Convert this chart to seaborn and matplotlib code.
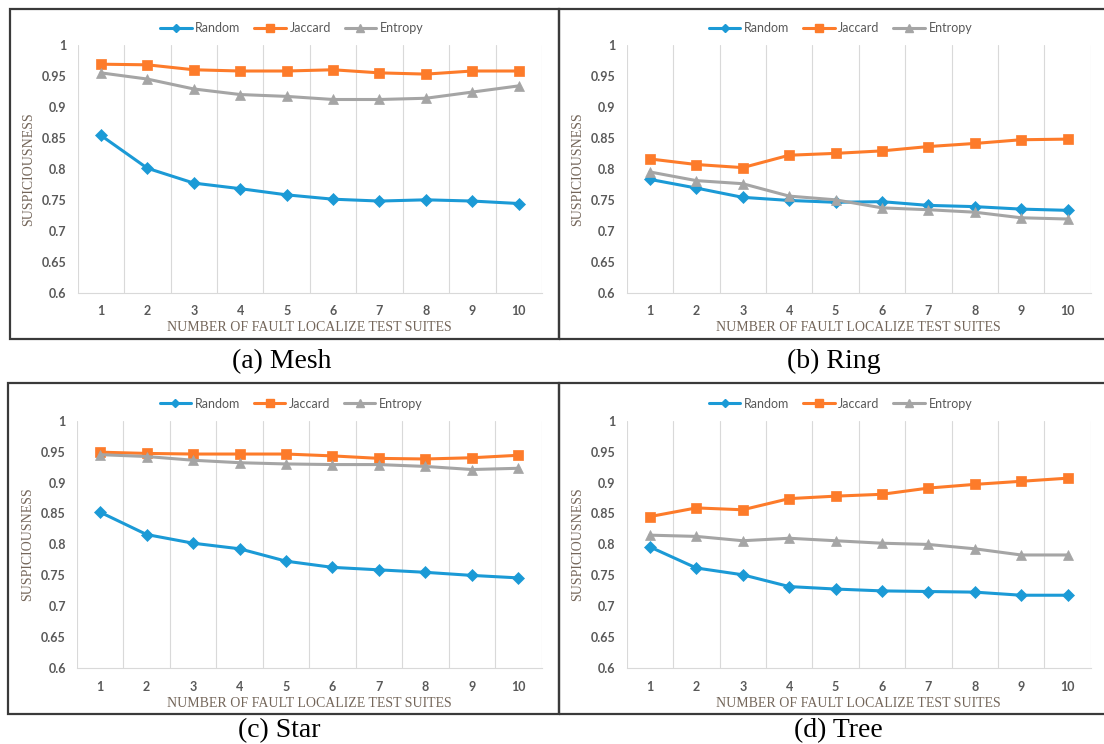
import numpy as np
import pandas as pd
import matplotlib
matplotlib.use("Agg")
import matplotlib.pyplot as plt
from matplotlib.patches import Rectangle
from matplotlib.lines import Line2D
import seaborn as sns

sns.set_theme(style="white")
plt.rcParams['font.family'] = ['Lato', 'DejaVu Sans']

suites = [1, 2, 3, 4, 5, 6, 7, 8, 9, 10]
series_names = ["Random", "Jaccard", "Entropy"]

mesh_random = [0.854, 0.801, 0.777, 0.768, 0.758, 0.751, 0.748, 0.750, 0.748, 0.744]
mesh_jaccard = [0.969, 0.968, 0.960, 0.958, 0.958, 0.960, 0.955, 0.953, 0.958, 0.958]
mesh_entropy = [0.955, 0.945, 0.929, 0.920, 0.917, 0.912, 0.912, 0.914, 0.924, 0.934]

ring_random = [0.783, 0.769, 0.754, 0.749, 0.746, 0.747, 0.741, 0.739, 0.735, 0.733]
ring_jaccard = [0.816, 0.807, 0.802, 0.822, 0.825, 0.829, 0.836, 0.841, 0.847, 0.848]
ring_entropy = [0.795, 0.781, 0.776, 0.756, 0.750, 0.737, 0.734, 0.730, 0.721, 0.719]

star_random = [0.852, 0.816, 0.802, 0.793, 0.773, 0.763, 0.759, 0.755, 0.750, 0.746]
star_jaccard = [0.949, 0.947, 0.946, 0.946, 0.946, 0.943, 0.939, 0.938, 0.940, 0.944]
star_entropy = [0.945, 0.942, 0.936, 0.932, 0.930, 0.929, 0.929, 0.926, 0.921, 0.923]

tree_random = [0.796, 0.762, 0.751, 0.732, 0.728, 0.725, 0.724, 0.723, 0.718, 0.718]
tree_jaccard = [0.845, 0.859, 0.856, 0.874, 0.878, 0.881, 0.891, 0.897, 0.902, 0.907]
tree_entropy = [0.815, 0.813, 0.806, 0.810, 0.806, 0.802, 0.800, 0.793, 0.783, 0.783]

captions = ["(a) Mesh", "(b) Ring", "(c) Star", "(d) Tree"]
panels = [
    (mesh_random, mesh_jaccard, mesh_entropy),
    (ring_random, ring_jaccard, ring_entropy),
    (star_random, star_jaccard, star_entropy),
    (tree_random, tree_jaccard, tree_entropy),
]
y_ticks = [0.6, 0.65, 0.7, 0.75, 0.8, 0.85, 0.9, 0.95, 1.0]
y_ticklabels = ["0.6", "0.65", "0.7", "0.75", "0.8", "0.85", "0.9", "0.95", "1"]
x_label = "NUMBER OF FAULT LOCALIZE TEST SUITES"
y_label = "SUSPICIOUSNESS"

colors = ["#1b9ad6", "#fd7b2a", "#a5a5a5"]
markers = ["D", "s", "^"]
msizes = [6.5, 7.8, 7.8]

W, H = 1104, 744
fig = plt.figure(figsize=(W / 100, H / 100), dpi=100)

def fx(px):
    return px / W

def fy(py):
    return 1 - py / H

# plot areas in pixel coords (left, top, right, bottom)
plot_boxes = [
    (77.7, 45.0, 542.0, 292.7),
    (626.7, 45.0, 1090.7, 292.7),
    (77.0, 420.6, 541.5, 668.3),
    (626.7, 420.6, 1090.7, 668.3),
]
frames = [
    (10, 9, 559, 339),
    (559, 9, 1112, 339),
    (8, 383, 559, 714),
    (559, 383, 1112, 714),
]
caption_pos = [(282, 368), (834, 368), (279, 737), (838, 737)]

gray_text = "#595959"
title_color = "#74665a"
serif = ["Liberation Serif", "DejaVu Serif"]

for i, (vals, box) in enumerate(zip(panels, plot_boxes)):
    l, t, r, b = box
    ax = fig.add_axes([fx(l), fy(b), fx(r) - fx(l), (b - t) / H])
    df = pd.DataFrame({
        "suite": suites * 3,
        "value": list(vals[0]) + list(vals[1]) + list(vals[2]),
        "series": [s for s in series_names for _ in suites],
    })
    for j, name in enumerate(series_names):
        sub = df[df["series"] == name]
        sns.lineplot(data=sub, x="suite", y="value", ax=ax, color=colors[j],
                     marker=markers[j], markersize=msizes[j], linewidth=2.2,
                     markeredgecolor=colors[j], markeredgewidth=0.5, legend=False)
    ax.set_xlim(0.5, 10.5)
    ax.set_ylim(0.6, 1.0)
    ax.set_xticks(suites)
    ax.set_xticklabels([str(s) for s in suites])
    ax.set_xticks(np.arange(0.5, 11, 1.0), minor=True)
    ax.set_yticks(y_ticks)
    ax.set_yticklabels(y_ticklabels)
    ax.grid(False)
    ax.grid(which="minor", axis="x", color="#d9d9d9", linewidth=0.8)
    for s in ["top", "right", "left"]:
        ax.spines[s].set_visible(False)
    ax.spines["bottom"].set_color("#d9d9d9")
    ax.spines["bottom"].set_linewidth(0.8)
    ax.tick_params(axis="both", which="both", length=0, labelsize=9, labelcolor=gray_text)
    ax.tick_params(axis="y", pad=8)
    ax.tick_params(axis="x", pad=9)
    for lab in ax.get_xticklabels() + ax.get_yticklabels():
        lab.set_fontweight("bold")
    ax.set_xlabel(x_label, family=serif, fontsize=10, color=title_color, labelpad=3)
    ax.set_ylabel(y_label, family=serif, fontsize=10, color=title_color, labelpad=5)
    ax.set_facecolor("none")

    handles = [Line2D([0], [0], color=colors[j], marker=markers[j], markersize=msizes[j] - 2,
                      linewidth=2.2, markeredgecolor=colors[j]) for j in range(3)]
    cx = (l + r) / 2 - 18
    cy = t - 17
    fig.legend(handles, series_names, loc="center", ncol=3,
               bbox_to_anchor=(fx(cx), fy(cy)), frameon=False, fontsize=9,
               handlelength=2.5, handletextpad=0.3, columnspacing=1.1,
               labelcolor=gray_text)

    fl, ft, fr, fb = frames[i]
    fig.add_artist(Rectangle((fx(fl), fy(fb)), fx(fr) - fx(fl), (fb - ft) / H,
                             transform=fig.transFigure, fill=False,
                             edgecolor="#3a3a3a", linewidth=1.6, clip_on=False))
    capx, capy = caption_pos[i]
    fig.text(fx(capx), fy(capy), captions[i], ha="center", va="baseline",
             family=serif, fontsize=20, color="black")

fig.savefig("out.png", dpi=100, facecolor="white")
